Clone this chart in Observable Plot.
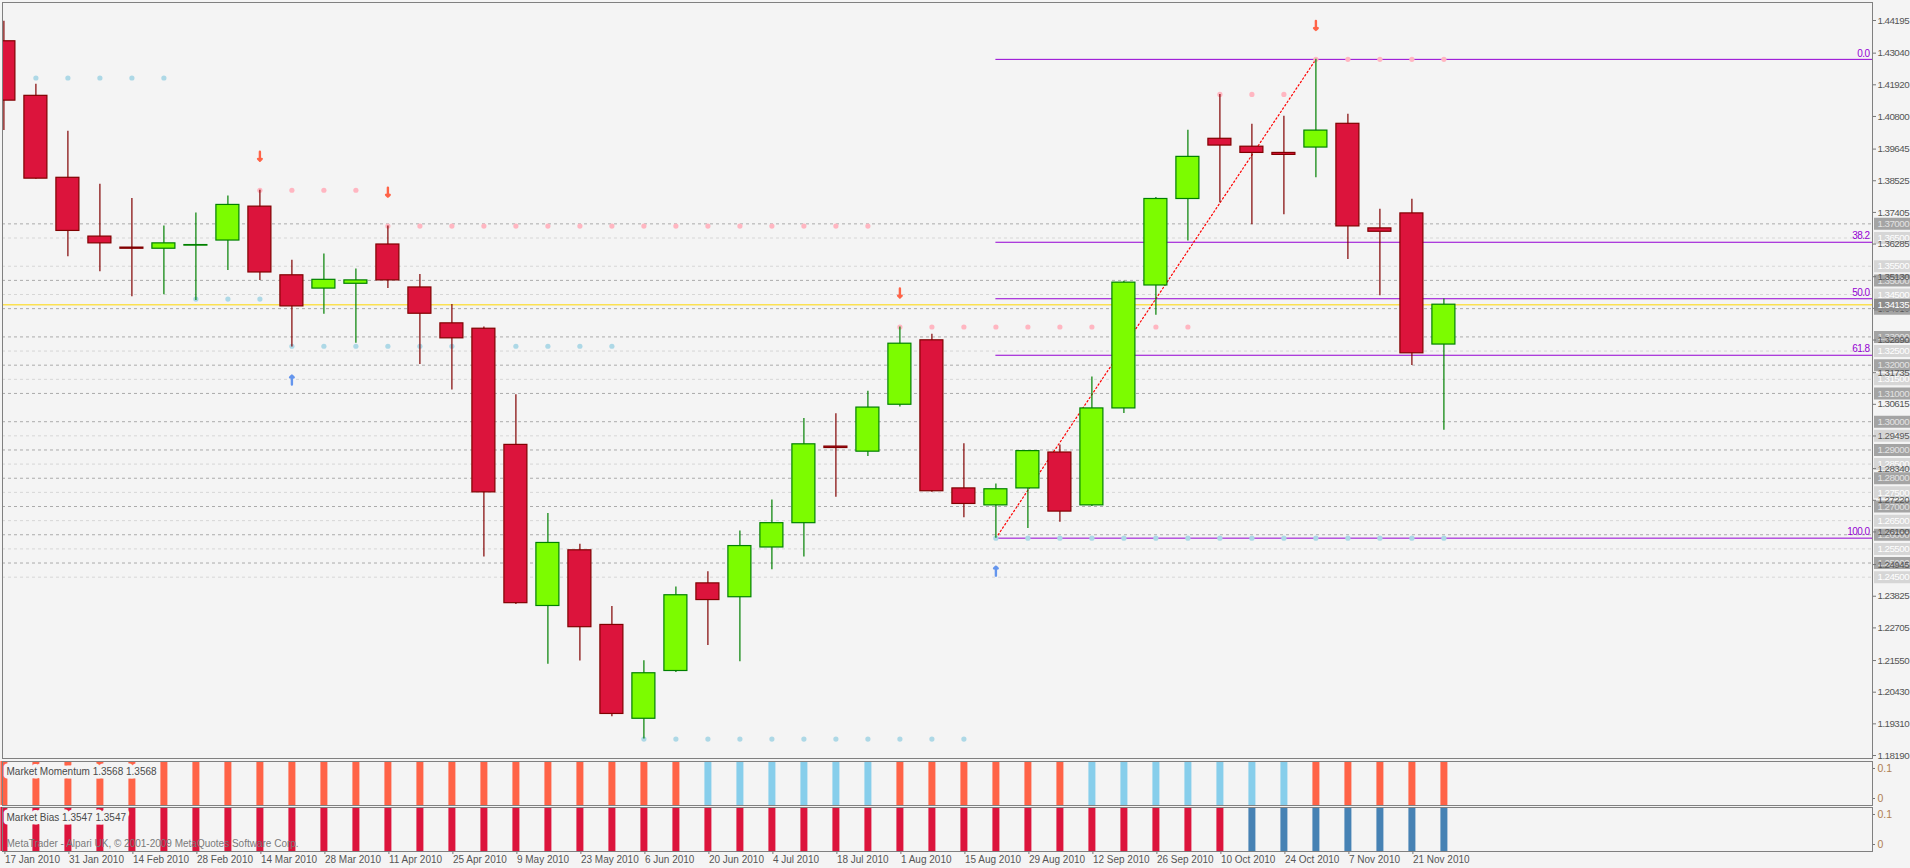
<!DOCTYPE html>
<html><head><meta charset="utf-8">
<script src="https://cdn.jsdelivr.net/npm/d3@7"></script>
<script src="https://cdn.jsdelivr.net/npm/@observablehq/plot@0.6"></script>
<style>
html,body{margin:0;padding:0;background:#F4F4F4;width:1910px;height:868px;overflow:hidden;}
#wrap{position:relative;width:1910px;height:868px;}
#wrap > svg, #wrap > figure{position:absolute;left:0;margin:0;}
#wrap > svg.mainchart text{letter-spacing:-0.55px;}
</style></head><body><div id="wrap"></div>
<script>
// ---------- DATA (EURUSD weekly, 2010) ----------
const firstWeek = "2010-01-17";
const opens  = [1.4346,1.4153,1.3863,1.3655,1.3616,1.3612,1.3623,1.3641,1.3761,1.3518,1.3471,1.3488,1.3627,1.3475,1.3348,1.3329,1.2918,1.2348,1.2545,1.2281,1.1949,1.2118,1.2428,1.2379,1.2555,1.2641,1.2912,1.2894,1.3060,1.3288,1.2764,1.2704,1.2764,1.2891,1.2704,1.3047,1.3482,1.3788,1.4001,1.3973,1.3951,1.3970,1.4054,1.3684,1.3737,1.3273];
const highs  = [1.4417,1.4194,1.4028,1.3840,1.3790,1.3692,1.3738,1.3799,1.3819,1.3571,1.3593,1.3540,1.3692,1.3521,1.3415,1.3335,1.3095,1.2675,1.2566,1.2346,1.2154,1.2415,1.2469,1.2613,1.2723,1.3011,1.3028,1.3108,1.3335,1.3309,1.2922,1.2780,1.2898,1.2918,1.3158,1.3497,1.3793,1.4031,1.4158,1.4052,1.4081,1.4282,1.4088,1.3752,1.3787,1.3434];
const lows   = [1.4030,1.3858,1.3584,1.3531,1.3442,1.3449,1.3429,1.3535,1.3500,1.3264,1.3380,1.3278,1.3471,1.3202,1.3112,1.2521,1.2353,1.2142,1.2153,1.1956,1.1877,1.2113,1.2208,1.2151,1.2476,1.2521,1.2733,1.2877,1.3052,1.2750,1.2660,1.2588,1.2622,1.2644,1.2700,1.3029,1.3377,1.3639,1.3775,1.3697,1.3732,1.3863,1.3574,1.3446,1.3199,1.2970];
const closes = [1.4136,1.3860,1.3675,1.3631,1.3612,1.3631,1.3625,1.3767,1.3528,1.3408,1.3502,1.3500,1.3500,1.3382,1.3295,1.2750,1.2358,1.2571,1.2273,1.1966,1.2110,1.2386,1.2369,1.2560,1.2641,1.2920,1.2907,1.3050,1.3276,1.2754,1.2709,1.2761,1.2896,1.2682,1.3047,1.3492,1.3788,1.3937,1.3977,1.3951,1.3944,1.4030,1.3691,1.3672,1.3242,1.3414];
// fractal levels (pink = resistance, blue = support), null = none
const resistance = [null,null,null,null,null,null,null,null,1.3819,1.3819,1.3819,1.3819,1.3692,1.3692,1.3692,1.3692,1.3692,1.3692,1.3692,1.3692,1.3692,1.3692,1.3692,1.3692,1.3692,1.3692,1.3692,1.3692,1.3335,1.3335,1.3335,1.3335,1.3335,1.3335,1.3335,1.3335,1.3335,1.3335,1.4158,1.4158,1.4158,1.4282,1.4282,1.4282,1.4282,1.4282];
const support = [null,1.4216,1.4216,1.4216,1.4216,1.4216,1.3434,1.3434,1.3434,1.3267,1.3267,1.3267,1.3267,1.3267,1.3267,1.3267,1.3267,1.3267,1.3267,1.3267,1.1877,1.1877,1.1877,1.1877,1.1877,1.1877,1.1877,1.1877,1.1877,1.1877,1.1877,1.2588,1.2588,1.2588,1.2588,1.2588,1.2588,1.2588,1.2588,1.2588,1.2588,1.2588,1.2588,1.2588,1.2588,1.2588];
const downArrows = [8,12,28,41];
const upArrows = [9,31];
const momentum = ["dn","dn","dn","dn","dn","dn","dn","dn","dn","dn","dn","dn","dn","dn","dn","dn","dn","dn","dn","dn","dn","dn","up","up","up","up","up","up","dn","dn","dn","dn","dn","dn","up","up","up","up","up","up","up","dn","dn","dn","dn","dn"];
const bias = ["dn","dn","dn","dn","dn","dn","dn","dn","dn","dn","dn","dn","dn","dn","dn","dn","dn","dn","dn","dn","dn","dn","dn","dn","dn","dn","dn","dn","dn","dn","dn","dn","dn","dn","dn","dn","dn","dn","dn","up","up","up","up","up","up","up"];
const fibLevels = [0, 38.2, 50, 61.8, 100];
const fibFrom = 31, fibTo = 41;
const levelsMajor = [1.370,1.350,1.340,1.330,1.320,1.310,1.300,1.290,1.280,1.270,1.260,1.250];
const levelsMinor = [1.365,1.355,1.345,1.325,1.315,1.295,1.285,1.275,1.265,1.255,1.245];
const currentPrice = 1.34135;
const priceTicks = [1.44195,1.43040,1.41920,1.40800,1.39645,1.38525,1.37405,1.36285,1.35130,1.34010,1.32890,1.31735,1.30615,1.29495,1.28340,1.27220,1.26100,1.24945,1.23825,1.22705,1.21550,1.20430,1.19310,1.18190];
const dateTicks = ["2010-01-17","2010-01-31","2010-02-14","2010-02-28","2010-03-14","2010-03-28","2010-04-11","2010-04-25","2010-05-09","2010-05-23","2010-06-06","2010-06-20","2010-07-04","2010-07-18","2010-08-01","2010-08-15","2010-08-29","2010-09-12","2010-09-26","2010-10-10","2010-10-24","2010-11-07","2010-11-21"];
const momentumLabel = "Market Momentum 1.3568 1.3568";
const biasLabel = "Market Bias 1.3547 1.3547";
const copyright = "MetaTrader - Alpari UK, \u00a9 2001-2009 MetaQuotes Software Corp.";

// ---------- derived table ----------
const WEEK = 7 * 864e5;
const t0 = Date.parse(firstWeek + "T00:00:00Z");
const weeks = opens.map((o, i) => ({
  i, date: new Date(t0 + i * WEEK), open: o, high: highs[i], low: lows[i], close: closes[i],
  up: closes[i] >= o, res: resistance[i], sup: support[i], mom: momentum[i], bias: bias[i]
}));
const fibHigh = highs[fibTo], fibLow = lows[fibFrom];
const fibPrice = p => fibHigh - (p / 100) * (fibHigh - fibLow);

// layout (pixels)
const W = 1910, ML = 2, MR = 38, PX = 32; // 32 px per week
const xDomain = [new Date(t0 - (1.4 / PX) * WEEK), new Date(t0 + ((W - ML - MR - 1.4) / PX) * WEEK)];
const xEnd = +xDomain[1];
const atPx = px => new Date(xEnd + (px / PX) * WEEK); // offset to the right of plot frame
const HALF = (11.5 / PX) * WEEK;
const FONT = "'Liberation Sans', Arial, sans-serif";
const styleBase = {fontFamily: FONT, fontSize: "10.5px", background: "transparent", color: "#555", overflow: "visible"};

// ---------- main chart ----------
const priceTop = 1.44832, priceBottom = 1.18084;
const boxText = {frameAnchor: "right", dx: 5, textAnchor: "start", fontSize: 9.8};
const main = Plot.plot({
  width: W, height: 760, marginLeft: ML, marginRight: MR, marginTop: 2, marginBottom: 2,
  className: "mainchart",
  style: styleBase,
  x: {type: "utc", domain: xDomain, axis: null},
  y: {domain: [priceBottom, priceTop], axis: null},
  marks: [
    Plot.ruleY(levelsMinor, {stroke: "#D6D6D6", strokeDasharray: "3,3"}),
    Plot.ruleY(levelsMajor, {stroke: "#ABABAB", strokeDasharray: "3,3"}),
    Plot.ruleY([currentPrice], {stroke: "#FFD700"}),
    Plot.ruleY(fibLevels, {y: fibPrice, x1: () => weeks[fibFrom].date, x2: () => xDomain[1], stroke: "#9400D3"}),
    Plot.line([weeks[fibFrom], weeks[fibTo]], {x: "date", y: (d, k) => k === 0 ? d.low : d.high, stroke: "#FF0000", strokeDasharray: "1.5,2.5", strokeWidth: 1.2}),
    Plot.dot(weeks.filter(d => d.res != null), {x: "date", y: "res", r: 2.6, fill: "#FFB6C1"}),
    Plot.dot(weeks.filter(d => d.sup != null), {x: "date", y: "sup", r: 2.6, fill: "#ADD8E6"}),
    Plot.ruleX(weeks, {x: "date", y1: "low", y2: "high", stroke: d => d.up ? "#008000" : "#800000", strokeWidth: 1.2, clip: true}),
    Plot.rect(weeks, {x1: d => new Date(+d.date - HALF), x2: d => new Date(+d.date + HALF), y1: "open", y2: "close",
      fill: d => d.up ? "#7CFC00" : "#DC143C", stroke: d => d.up ? "#008000" : "#800000", strokeWidth: 1.2, clip: true}),
    Plot.text(fibLevels, {y: fibPrice, frameAnchor: "right", text: p => p.toFixed(1), textAnchor: "end", dx: -3, dy: -6, fill: "#9400D3", fontSize: 10}),
    Plot.vector(downArrows.map(i => weeks[i]), {x: "date", y: "high", length: 9, rotate: 180, dy: -34, stroke: "#FF6347", strokeWidth: 2.4}),
    Plot.vector(upArrows.map(i => weeks[i]), {x: "date", y: "low", length: 9, rotate: 0, dy: 33, stroke: "#6495ED", strokeWidth: 2.4}),
    // price-level boxes on the right scale
    Plot.ruleY(levelsMinor, {x1: () => atPx(2), x2: () => atPx(40), stroke: "#D6D6D6", strokeWidth: 12}),
    Plot.ruleY(levelsMajor, {x1: () => atPx(2), x2: () => atPx(40), stroke: "#A4A4A4", strokeWidth: 12}),
    Plot.text(levelsMinor, {...boxText, y: d => d, text: d => d.toFixed(5), fill: "#FFFFFF"}),
    Plot.text(levelsMajor, {...boxText, y: d => d, text: d => d.toFixed(5), fill: "#E2E2E2"}),
    Plot.axisY(priceTicks, {anchor: "right", tickSize: 3, tickPadding: 2, tickFormat: d3.format(".5f"), stroke: "#777", fill: "#555", fontSize: 9.8}),
    Plot.ruleY([currentPrice], {x1: () => atPx(2), x2: () => atPx(40), stroke: "#8C8C8C", strokeWidth: 12}),
    Plot.text([currentPrice], {...boxText, y: d => d, text: d => d.toFixed(5), fill: "#FFFFFF"}),
    Plot.frame({stroke: "#808080"})
  ]
});
main.classList.add("mainchart");
main.style.top = "0px";

// ---------- indicator panes ----------
function pane(label, key, upColor, dnColor, height, marginBottom, extra) {
  return Plot.plot({
    width: W, height, marginLeft: ML, marginRight: MR, marginTop: 2, marginBottom,
    style: styleBase,
    x: {type: "utc", domain: xDomain, axis: null},
    y: {domain: [-0.02333, 0.12333], axis: null},
    marks: [
      Plot.ruleX(weeks, {x: "date", stroke: d => d[key] === "up" ? upColor : dnColor, strokeWidth: 7}),
      Plot.text([label], {frameAnchor: "top-left", dx: 4, dy: 10, lineAnchor: "middle", textAnchor: "start", fill: "#4A4A4A", stroke: "#F4F4F4", strokeWidth: 7, fontSize: 10}),
      ...extra,
      Plot.axisY([0, 0.1], {anchor: "right", tickSize: 2, tickPadding: 3, tickFormat: d => d === 0 ? "0" : "0.1", stroke: "#777", fill: "#B08050"}),
      Plot.frame({stroke: "#808080"})
    ]
  });
}
const mom = pane(momentumLabel, "mom", "#87CEEB", "#FF6347", 48, 2, []);
mom.style.top = "759px";
const bi = pane(biasLabel, "bias", "#4682B4", "#DC143C", 63, 17, [
  Plot.text([copyright], {frameAnchor: "top-left", dx: 4, dy: 36, lineAnchor: "middle", textAnchor: "start", fill: "#7A7A7A", fontSize: 10}),
  Plot.axisX(dateTicks.map(s => new Date(s + "T00:00:00Z")), {anchor: "bottom", tickSize: 3, tickPadding: 1, textAnchor: "start", dx: 1, tickFormat: d3.utcFormat("%-d %b %Y"), stroke: "#777", fill: "#555", fontSize: 10})
]);
bi.style.top = "805px";

const wrap = document.getElementById("wrap");
wrap.append(main, mom, bi);
</script>
</body></html>
